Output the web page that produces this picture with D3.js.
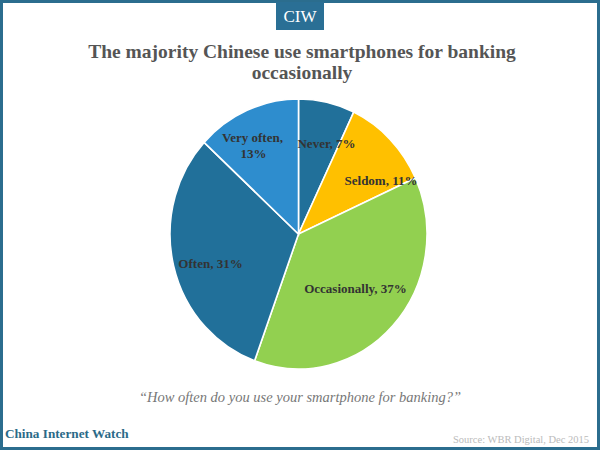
<!DOCTYPE html>
<html><head><meta charset="utf-8">
<script src="https://cdn.jsdelivr.net/npm/d3@7"></script>
<style>body{margin:0;background:#fff}svg{display:block}</style>
</head><body>
<svg id="c" width="600" height="450"></svg>
<script>
const categories = ["Never", "Seldom", "Occasionally", "Often", "Very often"];
const values = [7, 11, 37, 31, 13];
const colors = ["#21709a", "#ffc000", "#92d050", "#21709a", "#2e8dce"];

const svg = d3.select("#c");
svg.append("rect").attr("x",1.5).attr("y",1.5).attr("width",597).attr("height",447)
  .attr("fill","#fff").attr("stroke","#2b6d8e").attr("stroke-width",3);

// CIW badge
svg.append("rect").attr("x",276).attr("y",2).attr("width",48).attr("height",28).attr("fill","#2a6f95");
svg.append("text").attr("x",300).attr("y",22).attr("text-anchor","middle")
  .attr("font-family","Liberation Serif").attr("font-size",17).attr("fill","#fff").text("CIW");

const title = svg.append("text").attr("text-anchor","middle")
  .attr("font-family","Liberation Serif").attr("font-weight","bold").attr("font-size",19.5).attr("fill","#555");
title.append("tspan").attr("x",302).attr("y",58).text("The majority Chinese use smartphones for banking");
title.append("tspan").attr("x",302).attr("y",78.5).text("occasionally");

const cx = 298.5, cy = 234, rx = 128.5, ry = 135;
const pie = d3.pie().sort(null).value(d => d.v);
const arcs = pie(categories.map((c,i)=>({c, v: values[i], col: colors[i]})));
const arc = d3.arc().innerRadius(0).outerRadius(rx);
const g = svg.append("g").attr("transform", `translate(${cx},${cy}) scale(1,${ry/rx})`);
g.selectAll("path").data(arcs).join("path")
  .attr("d", arc).attr("fill", d => d.data.col)
  .attr("stroke","#fff").attr("stroke-width",1.6);

// labels
const labelPos = {
  "Never": [[326.5,147.7]],
  "Seldom": [[381,185]],
  "Occasionally": [[355.5,292.7]],
  "Often": [[210.5,268.3]],
  "Very often": [[252.5,141.7],[253.5,157.7]]
};
const lab = svg.append("g").attr("font-family","Liberation Serif").attr("font-weight","bold")
  .attr("font-size",13).attr("fill","#333").attr("text-anchor","middle");
arcs.forEach(d => {
  const name = d.data.c, pos = labelPos[name];
  const txt = name + ", " + d.data.v + "%";
  if (pos.length === 1) {
    lab.append("text").attr("x",pos[0][0]).attr("y",pos[0][1]).text(txt);
  } else {
    lab.append("text").attr("x",pos[0][0]).attr("y",pos[0][1]).text(name + ",");
    lab.append("text").attr("x",pos[1][0]).attr("y",pos[1][1]).text(d.data.v + "%");
  }
});

svg.append("text").attr("x",300).attr("y",402).attr("text-anchor","middle")
  .attr("font-family","Liberation Serif").attr("font-style","italic").attr("font-size",14.5)
  .attr("fill","#777").text("\u201CHow often do you use your smartphone for banking?\u201D");

svg.append("text").attr("x",5).attr("y",438)
  .attr("font-family","Liberation Serif").attr("font-weight","bold").attr("font-size",13.2)
  .attr("fill","#2b6a88").text("China Internet Watch");

svg.append("text").attr("x",589).attr("y",443).attr("text-anchor","end")
  .attr("font-family","Liberation Serif").attr("font-size",10.5)
  .attr("fill","#bbb").text("Source: WBR Digital,  Dec 2015");
</script>
</body></html>
